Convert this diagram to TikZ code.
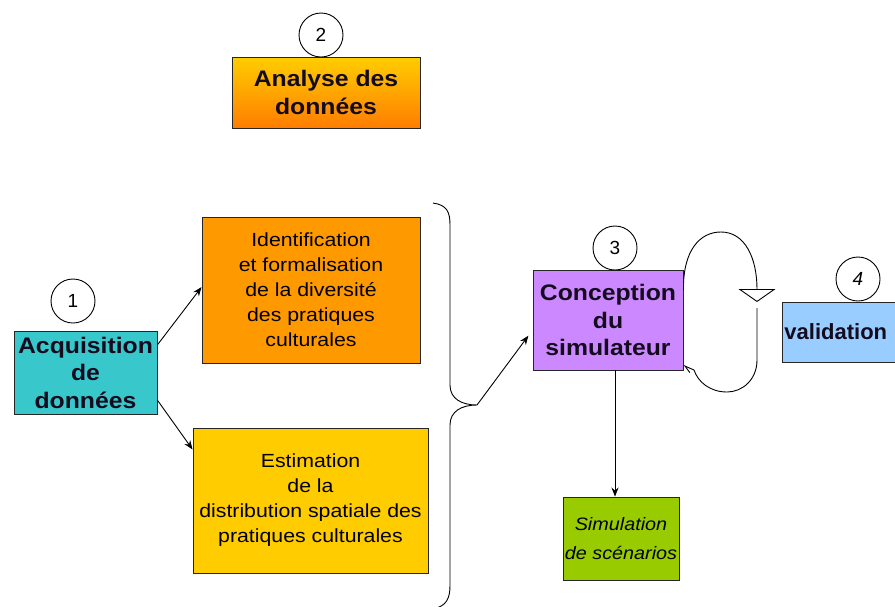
\documentclass[tikz,border=0pt]{standalone}
\usepackage{fontspec}
\setmainfont{Liberation Sans}
\newfontfamily\widebold[FakeStretch=1.1]{Liberation Sans Bold}
\newfontfamily\widereg[FakeStretch=1.12]{Liberation Sans}
\newfontfamily\wideit[FakeStretch=1.1]{Liberation Sans Italic}
\usetikzlibrary{arrows.meta,calc}
\definecolor{cyanbox}{RGB}{56,200,204}
\definecolor{orangebox}{RGB}{255,153,0}
\definecolor{yellowbox}{RGB}{255,204,0}
\definecolor{purplebox}{RGB}{204,136,255}
\definecolor{bluebox}{RGB}{153,204,255}
\definecolor{greenbox}{RGB}{153,204,0}
\definecolor{gradtop}{RGB}{255,205,0}
\definecolor{gradbot}{RGB}{255,125,0}
\definecolor{darktext}{RGB}{20,12,30}
\begin{document}
\begin{tikzpicture}[x=1pt,y=-1pt,
  box/.style={draw=black!85, line width=0.9pt, inner sep=0pt, align=center},
  boldtxt/.style={font=\fontsize{22.5}{27.5}\selectfont\widebold, text=darktext},
  lighttxt/.style={font=\fontsize{19}{25}\selectfont\widereg},
  itxt/.style={font=\fontsize{18}{29}\selectfont\wideit},
  num/.style={circle, draw, fill=white, line width=0.9pt, minimum size=44pt, inner sep=0pt, font=\fontsize{19}{20}\selectfont},
  arr/.style={-{Stealth[length=9pt,width=7pt]}, line width=0.9pt},
  plain/.style={line width=0.9pt}]
\useasboundingbox (0,0) rectangle (895,606);
\clip (0,0) rectangle (895,606);

% boxes
\node[box, boldtxt, top color=gradtop, bottom color=gradbot, minimum width=188pt, minimum height=71pt] (ana) at (326,92.5) {Analyse des\\données};
\node[box, boldtxt, fill=cyanbox, minimum width=143pt, minimum height=83pt] (acq) at (85.5,372.5) {Acquisition\\de\\données};
\node[box, lighttxt, fill=orangebox, minimum width=218pt, minimum height=146pt] (ident) at (311,290) {Identification\\et formalisation\\de la diversité\\des pratiques\\culturales};
\node[box, lighttxt, fill=yellowbox, minimum width=235pt, minimum height=145pt] (estim) at (310.5,500.5) {Estimation\\de la\\distribution spatiale des\\pratiques culturales};
\node[box, boldtxt, fill=purplebox, minimum width=150pt, minimum height=100pt] (conc) at (608,320) {Conception\\du\\simulateur};
\node[box, font=\fontsize{22}{27.5}\selectfont\bfseries, text=darktext, fill=bluebox, anchor=west, text width=117pt, inner xsep=2pt, align=left, minimum height=60pt] (valid) at (782,332) {validation};
\node[box, itxt, fill=greenbox, minimum width=116pt, minimum height=83pt] (simu) at (621,538.5) {Simulation\\de scénarios};

% numbered circles
\node[num] (n2) at (321,35) {2};
\node[num] (n1) at (73,301) {1};
\node[num] (n3) at (615,248) {3};
\node[num, font=\fontsize{19}{20}\selectfont\itshape] (n4) at (858,279) {4};

% brace
\coordinate (btip) at (477,405);
\draw[plain] (433,203) .. controls (447,205) and (450,212) .. (450,225) -- (450,385)
  .. controls (450,399) and (462,405) .. (btip)
  .. controls (462,405) and (450,411) .. (450,425) -- (450,585)
  .. controls (450,598) and (447,606) .. (433,609);

% arrows
\draw[arr] ($(acq.north east)!0.17!(acq.south east)$) -- ($(ident.north west)!0.48!(ident.south west)$);
\draw[arr] ($(acq.north east)!0.83!(acq.south east)$) -- ($(estim.north west)!0.15!(estim.south west)$);
\draw[arr, shorten >=7pt] (btip) -- ($(conc.north west)!0.6!(conc.south west)$);
\draw[arr] (conc.south -| n3) -- (simu.north -| n3);

% loop
\draw[plain, -{Triangle[open, fill=white, length=13pt, width=37pt]}]
  ($(conc.north east)!0.2!(conc.south east)$) .. controls (683,250) and (700,232) .. (721,232)
  .. controls (745,232) and (757,258) .. (757,302);
\draw[plain, -{Straight Barb[left, length=7pt, width=8pt]}]
  (757,308) -- (757,360) .. controls (757,380) and (742,392) .. (727,392)
  .. controls (710,392) and (698,382) .. (694,370) -- ($(conc.north east)!0.95!(conc.south east)$);
\end{tikzpicture}
\end{document}
